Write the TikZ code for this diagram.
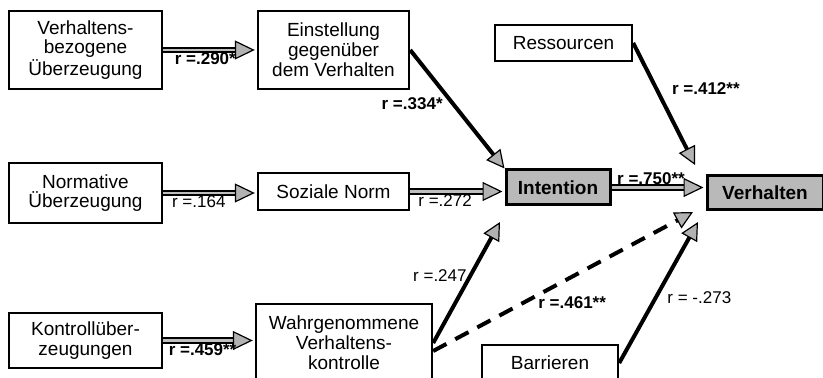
\documentclass[tikz,border=0pt]{standalone}
\usepackage{fontspec}
\setmainfont{Liberation Sans}
\usetikzlibrary{arrows.meta}

\begin{document}
\begin{tikzpicture}[
            x=0.5pt,
            y=-0.5pt,
            box/.style={draw, line width=1.2pt, align=center, inner sep=1pt,
                font=\fontsize{9.5}{9.9}\selectfont},
            keybox/.style={box, fill=gray!55, line width=1.5pt,
                font=\fontsize{9.5}{11}\selectfont\bfseries},
            tip/.style={-{Triangle[length=9pt, width=9pt, fill=gray!60, line width=0.6pt]}},
            pfeil/.style={tip, line width=2pt},
            doppel/.style={-{Triangle[length=10pt, width=9.5pt, fill=gray!60, line width=0.6pt]},
                line width=0.9pt, double=gray!50, double distance=1.3pt, shorten >=1pt},
            strich/.style={pfeil, dash pattern=on 7.5pt off 5pt},
            lbl/.style={font=\fontsize{8.5}{10}\selectfont, inner sep=1pt},
            blbl/.style={lbl, font=\fontsize{8.5}{10}\selectfont\bfseries}
            ]

            \clip (0,0) rectangle (823,378);

            % Ueberzeugungen
            \node[box, minimum width=76.5pt, minimum height=39pt] (vbu) at (85.5,50)
                {Verhaltens-\\bezogene\\Überzeugung};
            \node[box, minimum width=76.5pt, minimum height=30pt] (normue) at (85.5,193)
                {Normative\\Überzeugung};
            \node[box, minimum width=76.5pt, minimum height=27.5pt] (kontr) at (85.5,340.5)
                {Kontrollüber-\\zeugungen};

            % Mittlere Spalte
            \node[box, minimum width=75.5pt, minimum height=39pt] (einst) at (333.5,50)
                {Einstellung\\gegenüber\\dem Verhalten};
            \node[box, minimum width=75.5pt, minimum height=18.5pt] (sozn) at (333.5,191.5)
                {Soziale Norm};
            \node[box, minimum width=88pt, minimum height=39pt] (wahr) at (344,343)
                {Wahrgenommene\\Verhaltens-\\kontrolle};

            % Rechte Seite
            \node[box, minimum width=68.5pt, minimum height=18pt] (ress) at (563.5,43) {Ressourcen};
            \node[box, minimum width=68pt, minimum height=18pt] (barr) at (550,363) {Barrieren};
            \node[keybox, minimum width=52pt, minimum height=17.5pt] (intent) at (558,187.5) {Intention};
            \node[keybox, minimum width=58pt, minimum height=17pt] (verh) at (765,193) {Verhalten};

            % Pfeilspitzen
            \coordinate (itief) at (500,222);
            \coordinate (vhoch) at (695,165);
            \coordinate (vtief1) at (693,212);
            \coordinate (vtief2) at (698,222);

            % Doppelpfeile
            \draw[doppel] (vbu.east) -- (vbu.east -| einst.west)
                node[blbl, pos=.45, below] {r =.290*};
            \draw[doppel] (normue.east) -- (normue.east -| sozn.west)
                node[lbl, pos=.38, below] {r =.164};
            \draw[doppel] (sozn.east) -- (sozn.east -| intent.west)
                node[lbl, pos=.37, below] {r =.272};
            \draw[doppel] (intent.east) -- (intent.east -| verh.west)
                node[blbl, pos=.42, above] {r =.750**};
            \draw[doppel] (kontr.east) -- (kontr.east -| wahr.west)
                node[blbl, pos=.43, below] {r =.459**};

            % Einzelpfeile
            \draw[pfeil] (einst.east) -- (intent.north west)
                node[blbl, pos=.45, left=3pt] {r =.334*};
            \draw[pfeil] (ress.east) -- (vhoch)
                node[blbl, pos=.37, right=6pt] {r =.412**};
            \draw[pfeil] (wahr.east) -- (itief)
                node[lbl, pos=.56, left] {r =.247};
            \draw[strich] ([yshift=-4pt]wahr.east) -- (vtief1)
                node[blbl, pos=.535, below=8pt] {r =.461**};
            \draw[pfeil] (barr.east) -- (vtief2)
                node[lbl, pos=.46, right=4pt] {r = -.273};
        \end{tikzpicture}
\end{document}
